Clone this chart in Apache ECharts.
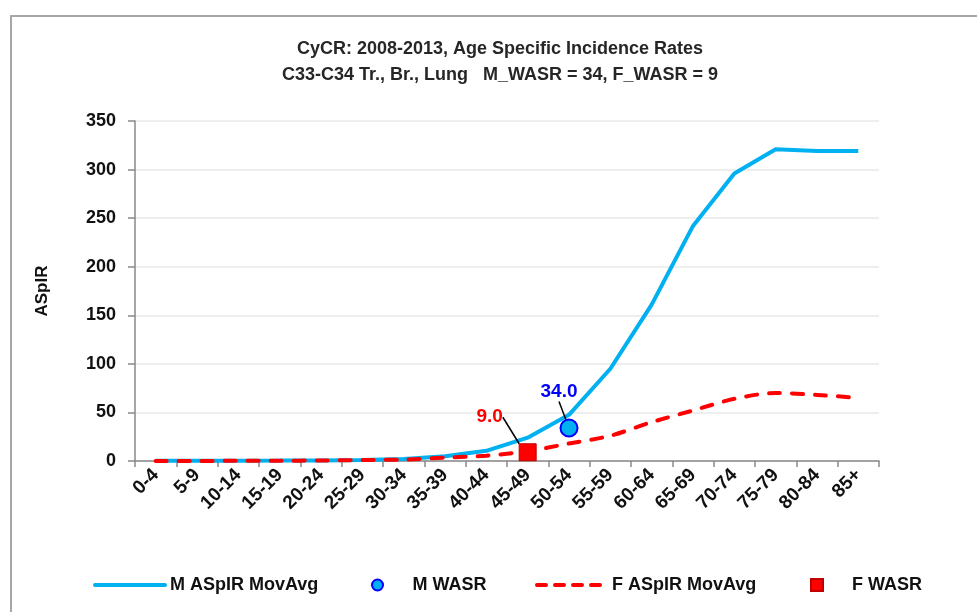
<!DOCTYPE html>
<html>
<head>
<meta charset="utf-8">
<script src="https://cdn.jsdelivr.net/npm/echarts@6/dist/echarts.min.js"></script>
<style>
  body { margin: 0; background: #fff; }
  .frame {
    position: absolute; left: 10px; top: 15px; width: 1000px; height: 1000px;
    border: 2px solid #a6a6a6; box-sizing: border-box;
  }
  #chart { position: absolute; left: 0; top: 0; width: 977px; height: 612px; }
</style>
</head>
<body>
<div class="frame"></div>
<div id="chart"></div>
<script>
// age groups on the x axis
const ages = ['0-4', '5-9', '10-14', '15-19', '20-24', '25-29', '30-34', '35-39', '40-44',
  '45-49', '50-54', '55-59', '60-64', '65-69', '70-74', '75-79', '80-84', '85+'];

// moving averages of the age specific rates
const mMovAvg = [0.2, 0.2, 0.3, 0.4, 0.6, 1, 2, 5, 10.5, 24, 47.5, 95, 161, 242, 296, 321, 319, 319];
const fMovAvg = [0.1, 0.1, 0.2, 0.3, 0.5, 1, 1.5, 3.5, 5.5, 10, 18, 26, 40, 52, 64, 70, 68, 65];

// world age standardised rates, placed at an age group
const mWasr = [['50-54', 34.0]];
const fWasr = [['45-49', 9.0]];

const yTicks = { min: 0, max: 350, step: 50 };

const font = '"Liberation Sans", Arial, sans-serif';
const txt = '#111';

const chart = echarts.init(document.getElementById('chart'));

// one legend per entry so each sits where the original has it
const legendAt = (name, left, w, extra) => Object.assign({
  data: [name], left: left, top: 571, itemWidth: w, itemHeight: 12, itemGap: 0,
  textStyle: { fontFamily: font, fontWeight: 'bold', fontSize: 18, color: txt }
}, extra || {});

chart.setOption({
  animation: false,
  title: {
    text: 'CyCR: 2008-2013, Age Specific Incidence Rates\nC33-C34 Tr., Br., Lung   M_WASR = 34, F_WASR = 9',
    left: 495,
    textAlign: 'center',
    top: 31,
    textStyle: { fontFamily: font, fontWeight: 'bold', fontSize: 18, lineHeight: 26, color: '#262626' }
  },
  legend: [
    legendAt('M ASpIR MovAvg', 88, 70, {
      itemStyle: { opacity: 0 }, lineStyle: { width: 4, cap: 'round' }
    }),
    legendAt('M WASR', 366, 60, { icon: 'circle', itemHeight: 11 }),
    legendAt('F ASpIR MovAvg', 530, 70, {
      itemStyle: { opacity: 0 }, lineStyle: { width: 4, type: [9, 9], cap: 'round' }
    }),
    legendAt('F WASR', 805, 60, { icon: 'path://M0,0h10v10h-10z', itemHeight: 12 })
  ],
  grid: { left: 135, right: 98, top: 121, bottom: 151, outerBoundsMode: 'none' },
  xAxis: {
    type: 'category',
    data: ages,
    axisLine: { lineStyle: { color: '#898989', width: 1.5 } },
    axisTick: { show: true, length: 6, lineStyle: { color: '#898989', width: 1.5 } },
    axisLabel: {
      rotate: 45, margin: 11, interval: 0,
      fontFamily: font, fontWeight: 'bold', fontSize: 19, color: txt
    }
  },
  yAxis: {
    type: 'value',
    min: yTicks.min, max: yTicks.max, interval: yTicks.step,
    name: 'ASpIR',
    nameLocation: 'middle',
    nameGap: 84,
    nameTextStyle: { fontFamily: font, fontWeight: 'bold', fontSize: 17, color: txt },
    axisLine: { show: true, lineStyle: { color: '#898989', width: 1.5 } },
    axisTick: { show: true, length: 7, lineStyle: { color: '#898989', width: 1.5 } },
    axisLabel: { margin: 19, fontFamily: font, fontWeight: 'bold', fontSize: 18, color: txt },
    splitLine: { lineStyle: { color: '#e8e8e8', width: 1.5 } }
  },
  series: [
    {
      name: 'M ASpIR MovAvg',
      type: 'line',
      data: mMovAvg,
      symbol: 'none',
      color: '#00b0f0',
      lineStyle: { width: 4, color: '#00b0f0' },
      z: 2
    },
    {
      name: 'F ASpIR MovAvg',
      type: 'line',
      data: fMovAvg,
      symbol: 'none',
      smooth: 0.3,
      color: '#ff0000',
      lineStyle: { width: 4, color: '#ff0000', type: [11, 12], cap: 'round' },
      z: 3
    },
    {
      name: 'M WASR',
      type: 'scatter',
      data: mWasr,
      symbol: 'circle',
      symbolSize: 17,
      itemStyle: { color: '#00b0f0', borderColor: '#0000ff', borderWidth: 2, opacity: 1 },
      label: {
        show: true, position: 'inside',
        formatter: p => p.value[1].toFixed(1),
        fontFamily: font, fontWeight: 'bold', fontSize: 19, color: '#0000ff'
      },
      labelLayout: { dx: -10, dy: -36 },
      labelLine: { show: true, lineStyle: { color: '#000', width: 1.5 } },
      z: 5
    },
    {
      name: 'F WASR',
      type: 'scatter',
      data: fWasr,
      symbol: 'rect',
      symbolSize: 17,
      itemStyle: { color: '#ff0000', borderColor: '#c00000', borderWidth: 1, opacity: 1 },
      label: {
        show: true, position: 'inside',
        formatter: p => p.value[1].toFixed(1),
        fontFamily: font, fontWeight: 'bold', fontSize: 19, color: '#ff0000'
      },
      labelLayout: { dx: -38, dy: -35 },
      labelLine: { show: true, lineStyle: { color: '#000', width: 1.5 } },
      z: 5
    }
  ]
});
</script>
</body>
</html>
